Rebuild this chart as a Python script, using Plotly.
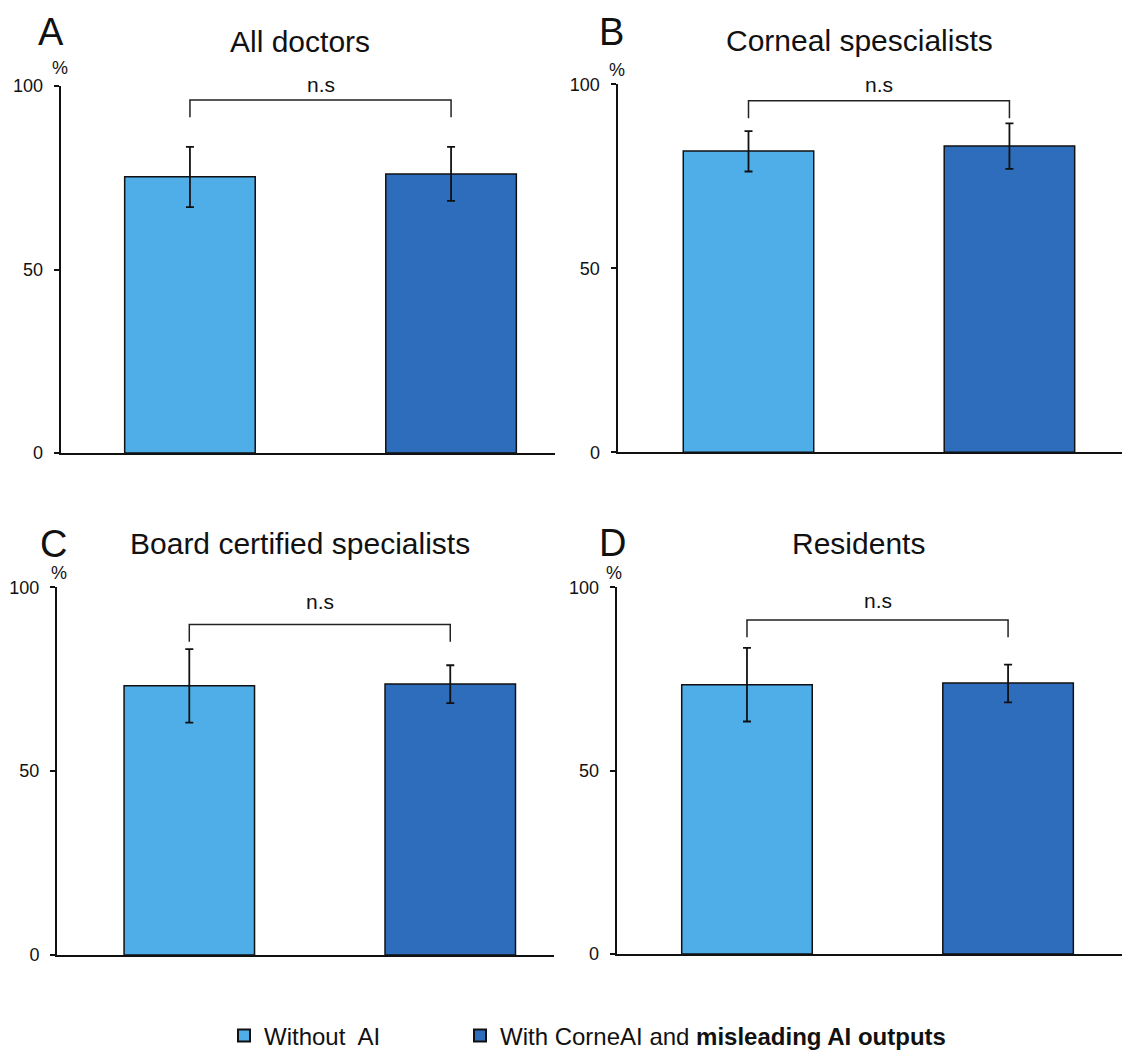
import plotly.graph_objects as go

# ---------------- data ----------------
panels = ["A", "B", "C", "D"]
titles = ["All doctors", "Corneal spescialists", "Board certified specialists", "Residents"]
series = ["Without\u00a0 AI", "With CorneAI and <b>misleading AI outputs</b>"]

without_ai = [75.3, 81.9, 73.2, 73.4]
without_err_plus = [8.1, 5.4, 10.0, 10.1]
without_err_minus = [8.3, 5.6, 10.0, 10.0]

with_ai = [76.0, 83.2, 73.7, 73.9]
with_err_plus = [7.4, 6.2, 5.1, 5.0]
with_err_minus = [7.3, 6.2, 5.2, 5.3]

bracket_top = [96.2, 95.5, 89.9, 91.1]
bracket_leg = [91.5, 90.8, 85.2, 86.4]
ns_label_y = [100.3, 100.0, 96.1, 96.5]
sig_label = "n.s"

y_ticks = [0, 50, 100]
y_unit = "%"

# ---------------- style ----------------
OFF = 8  # page body margin
W, H = 1130 - OFF, 1055 - OFF
FONT = "Liberation Sans, Arial, Helvetica, sans-serif"
C_LIGHT = "#4FADE8"
C_DARK = "#2E6DBC"
colors = [C_LIGHT, C_DARK]

def px(x):
    return (x - OFF) / W

def py(y):
    return 1 - (y - OFF) / H

# plot-area geometry (reference pixels) per panel: x0, x1, y(value 0), y(value 100)
geom = [
    (60.7, 555.0, 453.0, 86.0),
    (617.5, 1130.0, 452.3, 84.3),
    (57.0, 553.6, 955.0, 587.3),
    (616.7, 1130.0, 954.0, 587.3),
]
xranges = [[-0.495, 1.398], [-0.502, 1.462], [-0.507, 1.396], [-0.499, 1.467]]
title_pos = [(300, 42), (859, 40), (300, 543), (858, 543)]
letter_pos = [(51, 32), (611, 32), (53, 544), (612, 543)]
pct_pos = [(60, 68), (617, 70), (59, 573), (614, 573)]

legend_style = dict(
    orientation="h", yanchor="middle", xanchor="left",
    font=dict(size=24, family=FONT, color="#111"),
    bgcolor="rgba(0,0,0,0)", itemsizing="constant",
)

fig = go.Figure()
layout = dict(
    width=W, height=H, autosize=False,
    margin=dict(l=0, r=0, t=0, b=0, pad=0, autoexpand=False),
    paper_bgcolor="white", plot_bgcolor="white",
    font=dict(family=FONT, color="#111"),
    showlegend=True,
    legend=dict(x=px(224), y=py(1036), **legend_style),
    legend2=dict(x=px(460), y=py(1036), **legend_style),
)
annotations = []

vals = [without_ai, with_ai]
eplus = [without_err_plus, with_err_plus]
eminus = [without_err_minus, with_err_minus]
legends = ["legend", "legend2"]

for i, p in enumerate(panels):
    ax = "" if i == 0 else str(i + 1)
    xa, ya = "x" + ax, "y" + ax
    for s in range(2):
        fig.add_trace(go.Bar(
            x=[s], y=[vals[s][i]], width=0.5,
            name=series[s], legendgroup=series[s], showlegend=(i == 0),
            legend=legends[s],
            marker=dict(color=colors[s], line=dict(color="#111", width=1.5)),
            error_y=dict(type="data", symmetric=False,
                         array=[eplus[s][i]], arrayminus=[eminus[s][i]],
                         color="#111", thickness=1.8, width=4),
            xaxis=xa, yaxis=ya, hoverinfo="skip",
        ))
    # significance bracket
    fig.add_trace(go.Scatter(
        x=[0, 0, 1, 1],
        y=[bracket_leg[i], bracket_top[i], bracket_top[i], bracket_leg[i]],
        mode="lines", line=dict(color="#222", width=1.5),
        showlegend=False, xaxis=xa, yaxis=ya, hoverinfo="skip", cliponaxis=False,
    ))
    annotations.append(dict(
        x=0.5, y=ns_label_y[i] / 100.0, xref=xa, yref=ya + " domain", text=sig_label,
        showarrow=False, font=dict(size=21, family=FONT, color="#111"),
        xanchor="center", yanchor="middle",
    ))

    x0, x1, yb, yt = geom[i]
    layout["xaxis" + ax] = dict(
        domain=[px(x0), min(px(x1), 1.0)], range=xranges[i], anchor=ya,
        showline=True, linecolor="#111", linewidth=2,
        showticklabels=False, ticks="", showgrid=False, zeroline=False,
        fixedrange=True,
    )
    layout["yaxis" + ax] = dict(
        domain=[py(yb), py(yt)], range=[0, 100], anchor=xa,
        showline=True, linecolor="#111", linewidth=2,
        tickmode="array", tickvals=y_ticks, ticktext=[str(t) for t in y_ticks],
        ticks="outside", ticklen=5, tickwidth=1.5, tickcolor="#111",
        ticklabelstandoff=7,
        tickfont=dict(size=18, family=FONT, color="#111"),
        showgrid=False, zeroline=False, fixedrange=True,
    )
    tx, ty = title_pos[i]
    annotations.append(dict(
        x=px(tx), y=py(ty), xref="paper", yref="paper", text=titles[i],
        showarrow=False, font=dict(size=30, family=FONT, color="#111"),
        xanchor="center", yanchor="middle",
    ))
    lx, ly = letter_pos[i]
    annotations.append(dict(
        x=px(lx), y=py(ly), xref="paper", yref="paper", text=p,
        showarrow=False, font=dict(size=38, family=FONT, color="#111"),
        xanchor="center", yanchor="middle",
    ))
    cx, cy = pct_pos[i]
    annotations.append(dict(
        x=px(cx), y=py(cy), xref="paper", yref="paper", text=y_unit,
        showarrow=False, font=dict(size=18, family=FONT, color="#111"),
        xanchor="center", yanchor="middle",
    ))

layout["annotations"] = annotations
fig.update_layout(**layout)
fig.write_html("out.html")
